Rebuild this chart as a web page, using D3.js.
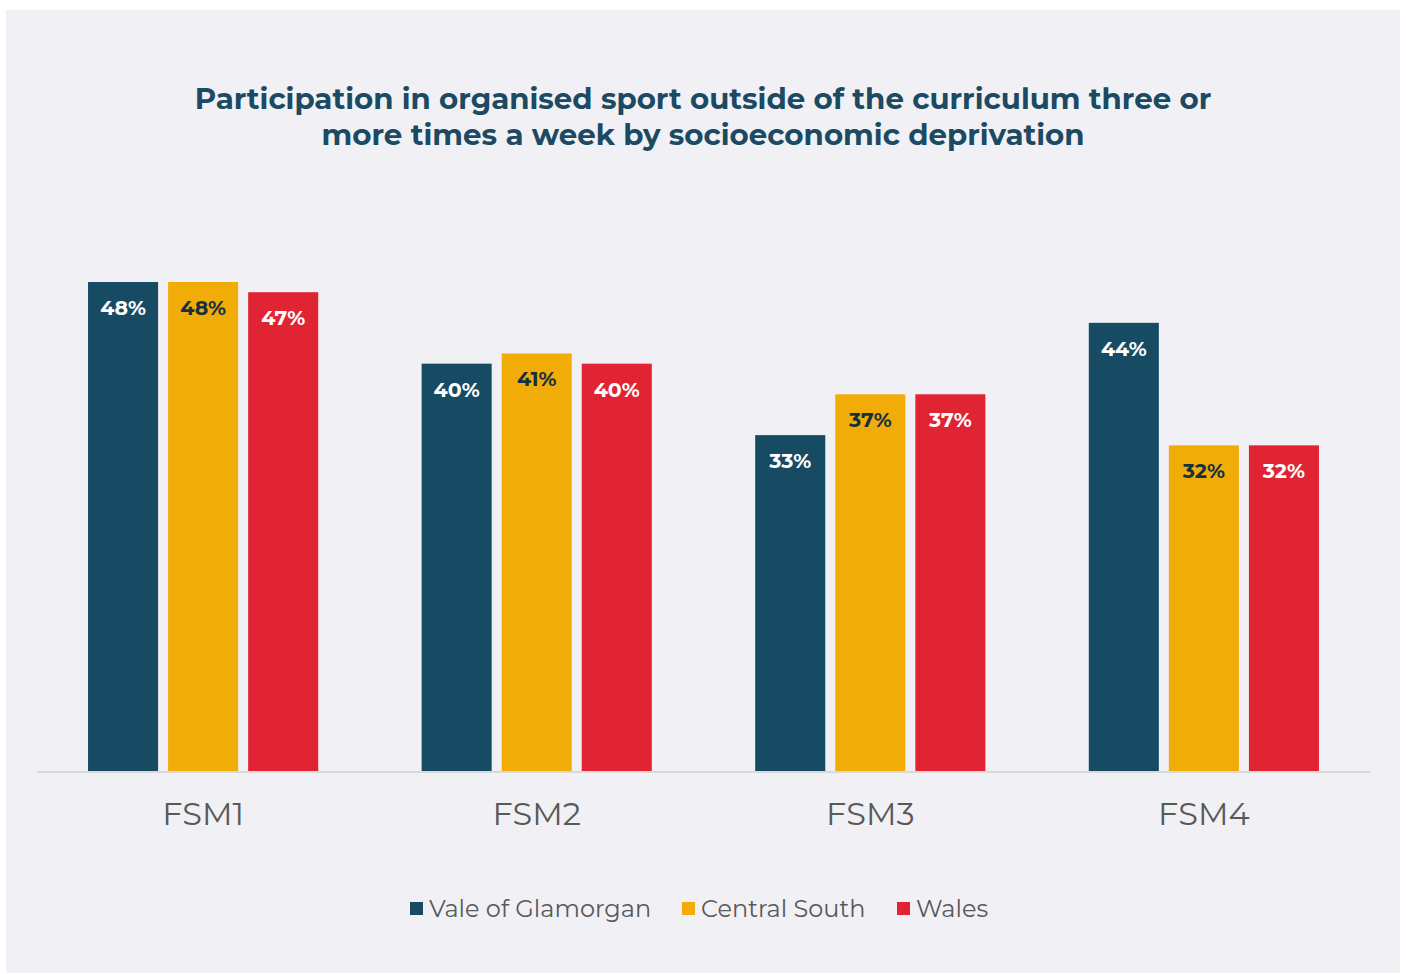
<!DOCTYPE html>
<html>
<head>
<meta charset="utf-8">
<script src="https://cdn.jsdelivr.net/npm/d3@7"></script>
<style>
  html, body { margin: 0; padding: 0; background: #ffffff; }
  svg { display: block; }
</style>
</head>
<body>
<svg id="chart" width="1406" height="974"></svg>
<script>
// FSM quartiles (free school meal eligibility bands)
const categories = ["FSM1", "FSM2", "FSM3", "FSM4"];
const seriesNames = ["Vale of Glamorgan", "Central South", "Wales"];
// Percentage taking part three or more times a week
const valeOfGlamorgan = [48, 40, 33, 44];
const centralSouth = [48, 41, 37, 32];
const wales = [47, 40, 37, 32];
const titleLines = [
  "Participation in organised sport outside of the curriculum three or",
  "more times a week by socioeconomic deprivation"
];

const seriesValues = [valeOfGlamorgan, centralSouth, wales];
const colors = ["#174a63", "#f2ac08", "#e02433"];
const labelColors = ["#ffffff", "#16303f", "#ffffff"];

const svg = d3.select("#chart");
const fontFamily = "Montserrat, Inter, 'Open Sans', sans-serif";

// panel background
svg.append("rect")
  .attr("x", 6).attr("y", 10)
  .attr("width", 1394).attr("height", 963)
  .attr("fill", "#f1f1f5");

// title
const title = svg.append("text")
  .attr("text-anchor", "middle")
  .attr("font-family", fontFamily)
  .attr("font-weight", 700)
  .attr("font-size", 29.3)
  .attr("fill", "#1b4a62");
title.selectAll("tspan")
  .data(titleLines)
  .join("tspan")
  .attr("x", 703)
  .attr("y", (d, i) => 109 + i * 36)
  .text(d => d);

const left = 37, right = 1370, baseline = 772;

const x0 = d3.scaleBand()
  .domain(categories)
  .range([left, right])
  .paddingInner(0.31)
  .paddingOuter(0.153);

const x1 = d3.scaleBand()
  .domain(seriesNames)
  .range([0, x0.bandwidth()])
  .paddingInner(0.125);

const y = d3.scaleLinear()
  .domain([0, 48])
  .range([baseline, baseline - 490]);

const rows = categories.map((c, ci) => ({
  category: c,
  values: seriesNames.map((s, si) => ({ series: s, si, value: seriesValues[si][ci] }))
}));

const groups = svg.append("g")
  .selectAll("g")
  .data(rows)
  .join("g")
  .attr("transform", d => `translate(${x0(d.category)},0)`);

groups.selectAll("rect")
  .data(d => d.values)
  .join("rect")
  .attr("x", d => x1(d.series))
  .attr("y", d => y(d.value))
  .attr("width", x1.bandwidth())
  .attr("height", d => baseline - y(d.value))
  .attr("fill", d => colors[d.si]);

groups.selectAll("text")
  .data(d => d.values)
  .join("text")
  .attr("x", d => x1(d.series) + x1.bandwidth() / 2)
  .attr("y", d => y(d.value) + 33)
  .attr("text-anchor", "middle")
  .attr("font-family", fontFamily)
  .attr("font-weight", 700)
  .attr("font-size", 20.5)
  .attr("fill", d => labelColors[d.si])
  .text(d => d.value + "%");

// category axis
const xAxis = svg.append("g")
  .attr("transform", `translate(0,${baseline})`)
  .call(d3.axisBottom(x0).tickSize(0).tickPadding(30));
xAxis.select(".domain")
  .attr("d", `M${left},0H${right}`)
  .attr("stroke", "#d9d9d9")
  .attr("stroke-width", 2);
xAxis.selectAll(".tick text")
  .attr("font-family", fontFamily)
  .attr("font-weight", 400)
  .attr("font-size", 32)
  .attr("fill", "#595959");

// legend
const legendItems = [
  { name: seriesNames[0], x: 410 },
  { name: seriesNames[1], x: 682 },
  { name: seriesNames[2], x: 897 }
];
const legend = svg.append("g")
  .selectAll("g")
  .data(legendItems)
  .join("g")
  .attr("transform", d => `translate(${d.x},902)`);
legend.append("rect")
  .attr("width", 13).attr("height", 13)
  .attr("fill", (d, i) => colors[i]);
legend.append("text")
  .attr("x", 19)
  .attr("y", 15)
  .attr("font-family", fontFamily)
  .attr("font-size", 24)
  .attr("fill", "#595959")
  .text(d => d.name);
</script>
</body>
</html>
